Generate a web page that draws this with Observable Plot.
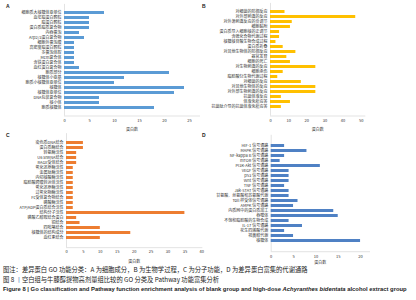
<!DOCTYPE html>
<html><head><meta charset="utf-8">
<script src="https://cdn.jsdelivr.net/npm/d3@7"></script>
<script src="https://cdn.jsdelivr.net/npm/@observablehq/plot@0.6"></script>
<style>
body{margin:0;background:#fff;font-family:"Noto Sans CJK SC",sans-serif}
#wrap{position:relative;width:416px;height:300px;overflow:hidden;background:#fff}
.panel{position:absolute}
.letter{position:absolute;font:bold 5px "Liberation Sans",sans-serif;color:#222}
.note{position:absolute;left:3px;white-space:nowrap;color:#222;line-height:1}
</style></head><body>
<div id="wrap">
  <div class="panel" id="pA" style="left:0;top:0"></div>
  <div class="panel" id="pB" style="left:208px;top:0"></div>
  <div class="panel" id="pC" style="left:0;top:125px"></div>
  <div class="panel" id="pD" style="left:208px;top:125px"></div>
  <div class="letter" style="left:6px;top:3px">A</div>
  <div class="letter" style="left:202px;top:3px">B</div>
  <div class="letter" style="left:6px;top:132px">C</div>
  <div class="letter" style="left:202px;top:132px">D</div>
  <div class="note" style="top:267px;font-size:6.3px;font-family:'Noto Sans CJK SC'">图注：差异蛋白 GO 功能分类：A 为细胞成分，B 为生物学过程，C 为分子功能，D 为差异蛋白富集的代谢通路</div>
  <div class="note" style="top:277px;font-size:6.3px;font-family:'Noto Sans CJK SC'">图 8 <span style="color:#2f6db5">丨</span>空白组与牛膝醇提物高剂量组比较的 GO 分类及 Pathway 功能富集分析</div>
  <div class="note" style="top:286.5px;font-size:5.85px;font-weight:bold;font-family:'Liberation Sans',sans-serif">Figure 8 | Go classification and Pathway function enrichment analysis of blank group and high-dose <i>Achyranthes bidentata</i> alcohol extract group</div>
</div>
<script>
// A: cellular component
const ccCats = ["细胞质大核糖体亚单位","血浆脂蛋白颗粒","脂蛋白颗粒","蛋白质脂质复合物","内吞囊泡","Arp2/3蛋白复合物","细胞外囊泡膜","高密度脂蛋白颗粒","多囊泡体腔","Mcm复合体","含铁蛋白复合体","血红蛋白复合物","胞质部分","核糖体小亚基","胞质小核糖体亚单位","核糖体","核糖体亚单位","DNA包装复合物","核小体","胞质核糖体"];
const ccVals = [8,5,5,5,3,4,2,2,2,2,2,3,21,12,10,24,22,7,7,18];
const ccTicks = [0,5,10,15,20,25];

// B: biological process
const bpCats = ["对细菌的防御反应","对外部刺激的反应","对外源刺激反应的负调节","细胞黏附","蛋白质导入细胞核的正调节","含硫化合物代谢过程","核糖核苷酸生物合成过程","蛋白质折叠","对其他生物体的防御反应","器官发育","细胞的死亡","对生物刺激的反应","细胞杀伤","脂肪酸衍生物代谢过程","对细菌的反应","对其他生物体的反应","对外部生物刺激的反应","抗菌体液反应","体液免疫应答","抗菌肽介导的抗菌体液免疫应答"];
const bpVals = [8,47,12,11,5,5,3,7,14,9,11,25,7,4,17,25,25,6,11,6];
const bpTicks = [0,10,20,30,40,50];

// C: molecular function
const mfCats = ["染色质DNA结合","蛋白质酶结合","转氨酶活性","U6 snRNA结合","RAGE受体结合","氧化还原酶活性","金属肽酶活性","内切核酸酶活性","脂肪酸跨膜转运体活性","氧化还原酶活性","过氧化物酶活性","Fc受体复合物结合","磷酸酶活性","ATP/ADP蛋白质结合活性","结构分子活性","磷酸乙醇胺结合蛋白","铜结合","四吡咯结合","核糖体的结构成分","血红素结合"];
const mfVals = [5,5,3,3,3,2,2,2,2,2,2,2,2,2,35,3,4,10,19,10];
const mfTicks = [0,5,10,15,20,25,30,35,40];

// D: pathways
const pwCats = ["HIF-1 信号通路","MAPK 信号通路","NF-kappa B 信号通路","mTOR 信号通路","PI3K-Akt 信号通路","VEGF 信号通路","p53 信号通路","Wnt 信号通路","TNF 信号通路","Jak-STAT 信号通路","甘氨酸、丝氨酸和苏氨酸代谢","Toll 样受体信号通路","AMPK 信号通路","内质网中的蛋白质加工","吞噬体","不饱和脂肪酸的生物合成","IL-17 信号通路","花生四烯酸代谢","视黄醇代谢","核糖体"];
const pwVals = [3,8,3,2,11,4,4,4,3,4,4,6,5,14,15,4,7,3,5,20];
const pwTicks = [0,5,10,15,20];

function panel(el, cats, vals, color, opt) {
  const data = cats.map((c, i) => ({c, v: vals[i], i}));
  const plot = Plot.plot({
    width: 208, height: opt.h,
    marginLeft: opt.ml, marginRight: opt.mr, marginTop: opt.mt, marginBottom: opt.mb,
    style: {background: "transparent", overflow: "visible", fontFamily: "'Noto Sans CJK SC', sans-serif", fontSize: "4px", color: "#333"},
    x: {domain: opt.domain},
    y: {domain: data.map(d => d.i), paddingInner: 0.45, paddingOuter: 0.225},
    marks: [
      Plot.ruleX([0], {stroke: "#d0d0d0", strokeWidth: 0.6}),
      Plot.frame({anchor: "bottom", stroke: "#d0d0d0", strokeWidth: 0.6}),
      Plot.barX(data, {x: "v", y: "i", fill: color}),
      Plot.axisX({ticks: opt.ticks, tickSize: 0, tickPadding: 3, fontSize: 4, label: "蛋白数", labelAnchor: "center", labelArrow: "none", labelOffset: opt.lo}),
      Plot.axisY({tickSize: 0, tickPadding: 3, fontSize: 4, label: null, tickFormat: i => cats[i]})
    ]
  });
  document.getElementById(el).appendChild(plot);
}

panel("pA", ccCats, ccVals, "#5b9bd5", {h: 132, ml: 64, mr: 9, mt: 3.9, mb: 16.5, domain: [0, 27], ticks: ccTicks, lo: 15});
panel("pB", bpCats, bpVals, "#ffc000", {h: 132, ml: 62, mr: 51.7, mt: 2.9, mb: 16.5, domain: [0, 52], ticks: bpTicks, lo: 15});
panel("pC", mfCats, mfVals, "#ed7d31", {h: 142, ml: 66, mr: 6.7, mt: 8.15, mb: 19.85, domain: [0, 40], ticks: mfTicks, lo: 15});
panel("pD", pwCats, pwVals, "#4f81c4", {h: 142, ml: 62.7, mr: 47, mt: 9.8, mb: 15.8, domain: [0, 22], ticks: pwTicks, lo: 12.5});
</script>
</body></html>
